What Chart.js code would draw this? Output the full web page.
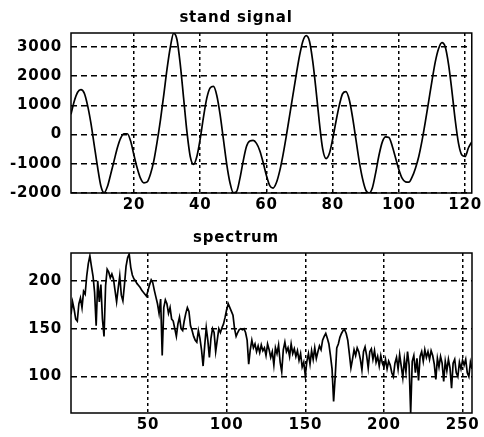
<!DOCTYPE html>
<html><head><meta charset="utf-8">
<script src="https://cdn.jsdelivr.net/npm/chart.js@4"></script>
<style>
html,body{margin:0;padding:0;background:#fff;}
#wrap{position:relative;width:484px;height:437px;overflow:hidden;}
canvas{position:absolute;left:0;}
</style></head><body>
<div id="wrap">
<canvas id="c1" width="484" height="220" style="top:0px"></canvas>
<canvas id="c2" width="484" height="217" style="top:220px"></canvas>
</div>
<script>
const signalTitle = 'stand signal';
const signalValues = [
  700, 1150, 1450, 1540, 1420, 1000, 400, -350, -1100, -1750,
  -1990, -1780, -1350, -900, -450, -120, 30, 30, -220, -700,
  -1150, -1500, -1650, -1620, -1350, -900, -250, 500, 1350, 2250,
  3000, 3470, 3250, 2400, 1250, 100, -750, -1020, -750, -150,
  600, 1250, 1600, 1650, 1350, 700, -150, -1000, -1650, -1990,
  -1950, -1500, -900, -400, -220, -200, -300, -550, -950, -1400,
  -1750, -1830, -1650, -1250, -700, -50, 650, 1350, 2050, 2700,
  3200, 3390, 3200, 2500, 1500, 400, -500, -820, -650, -150,
  450, 1000, 1400, 1470, 1200, 600, -150, -900, -1500, -1900,
  -2000, -1820, -1300, -700, -250, -80, -100, -400, -800, -1200,
  -1500, -1620, -1630, -1450, -1150, -750, -200, 450, 1150, 1850,
  2500, 2950, 3150, 3000, 2400, 1500, 500, -300, -700, -750,
  -450, -250
];
const signalXTicks = [20, 40, 60, 80, 100, 120];
const signalYTicks = [-2000, -1000, 0, 1000, 2000, 3000];
const signalXRange = [1, 122];
const signalYRange = [-2000, 3480];

const spectrumTitle = 'spectrum';
const spectrumValues = [
  165, 178, 170, 160, 158, 176, 182, 172, 189, 186,
  205, 218, 226, 215, 205, 188, 153, 200, 178, 196,
  160, 142, 195, 212, 209, 203, 207, 202, 190, 178,
  192, 205, 185, 179, 196, 215, 224, 228, 214, 206,
  202, 200, 197, 195, 193, 190, 188, 186, 184, 190,
  196, 201, 198, 190, 183, 176, 166, 181, 122, 172,
  180, 176, 166, 172, 160, 158, 150, 142, 155, 162,
  150, 148, 158, 166, 172, 168, 153, 148, 142, 138,
  136, 148, 140, 128, 111, 132, 151, 138, 120, 140,
  150, 146, 126, 138, 150, 146, 151, 155, 162, 170,
  176, 172, 168, 164, 150, 142, 146, 149, 150, 149,
  150, 146, 138, 113, 128, 138, 130, 134, 126, 132,
  125, 133, 127, 130, 122, 134, 128, 120, 126, 112,
  130, 124, 133, 115, 105, 128, 136, 126, 130, 121,
  134, 124, 129, 121, 127, 117, 124, 110, 115, 101,
  116, 124, 113, 127, 118, 130, 119, 126, 132, 128,
  138, 142, 145, 140, 134, 122, 108, 74, 100, 130,
  134, 141, 145, 148, 149, 145, 138, 124, 109, 118,
  128, 122, 130, 126, 118, 107, 126, 131, 122, 109,
  126, 129, 118, 127, 115, 121, 111, 122, 114, 110,
  118, 108, 116, 112, 104, 100, 114, 120, 108, 123,
  111, 99, 118, 105, 126, 112, 62, 116, 122, 104,
  119, 96, 121, 126, 116, 128, 120, 126, 118, 127,
  122, 113, 97, 119, 110, 121, 114, 95, 116, 106,
  118, 109, 88, 114, 118, 104, 100, 115, 108, 117,
  112, 118, 104, 100, 115, 108
];
const spectrumXTicks = [50, 100, 150, 200, 250];
const spectrumYTicks = [100, 150, 200];
const spectrumXRange = [1, 256];
const spectrumYRange = [62, 229];

const framePlugin = {
  id: 'frame',
  beforeDraw(chart) { chart.ctx.letterSpacing = '0.8px'; },
  afterDraw(chart) {
    const ctx = chart.ctx, a = chart.chartArea;
    ctx.letterSpacing = '0px';
    ctx.save();
    ctx.setLineDash([]);
    ctx.strokeStyle = '#000';
    ctx.lineWidth = 1.5;
    ctx.strokeRect(a.left, a.top, a.right - a.left, a.bottom - a.top);
    ctx.restore();
  }
};

const tickFont = { family: 'DejaVu Sans', size: 15, weight: 'bold' };

function makeChart(id, title, values, xTicks, yTicks, xRange, yRange, xAxisH, smooth) {
  const pts = values.map((v, i) => ({ x: i + 1, y: v }));
  return new Chart(document.getElementById(id), {
    type: 'line',
    data: { datasets: [{
      data: pts,
      borderColor: '#000',
      borderWidth: 1.7,
      pointRadius: 0,
      fill: false,
      tension: smooth ? 0.4 : 0,
      cubicInterpolationMode: smooth ? 'monotone' : 'default'
    }]},
    options: {
      responsive: false,
      animation: false,
      events: [],
      devicePixelRatio: 1,
      layout: { padding: { left: 0, right: 12, top: 0, bottom: 0 } },
      plugins: {
        legend: { display: false },
        tooltip: { enabled: false },
        title: {
          display: true,
          text: title,
          color: '#000',
          font: { family: 'DejaVu Sans', size: 15, weight: 'bold', lineHeight: 1.2 },
          padding: { top: 9, bottom: 6 }
        }
      },
      scales: {
        x: {
          type: 'linear',
          min: xRange[0], max: xRange[1],
          afterBuildTicks: ax => { ax.ticks = xTicks.map(v => ({ value: v })); },
          afterFit: sc => { sc.height = xAxisH; },
          ticks: { color: '#000', font: tickFont, padding: 3, maxRotation: 0, autoSkip: false,
                   callback: v => String(v) },
          grid: { color: '#000', lineWidth: 1.5, drawTicks: false },
          border: { display: false, dash: [3, 3] }
        },
        y: {
          type: 'linear',
          min: yRange[0], max: yRange[1],
          afterBuildTicks: ax => { ax.ticks = yTicks.map(v => ({ value: v })); },
          afterFit: sc => { sc.width = 71; },
          ticks: { color: '#000', font: tickFont, padding: 9, callback: v => String(v) },
          grid: { color: '#000', lineWidth: 1.5, drawTicks: false },
          border: { display: false, dash: [6, 4] }
        }
      }
    },
    plugins: [framePlugin]
  });
}

makeChart('c1', signalTitle, signalValues, signalXTicks, signalYTicks, signalXRange, signalYRange, 27, true);
makeChart('c2', spectrumTitle, spectrumValues, spectrumXTicks, spectrumYTicks, spectrumXRange, spectrumYRange, 24, false);
</script>
</body></html>
